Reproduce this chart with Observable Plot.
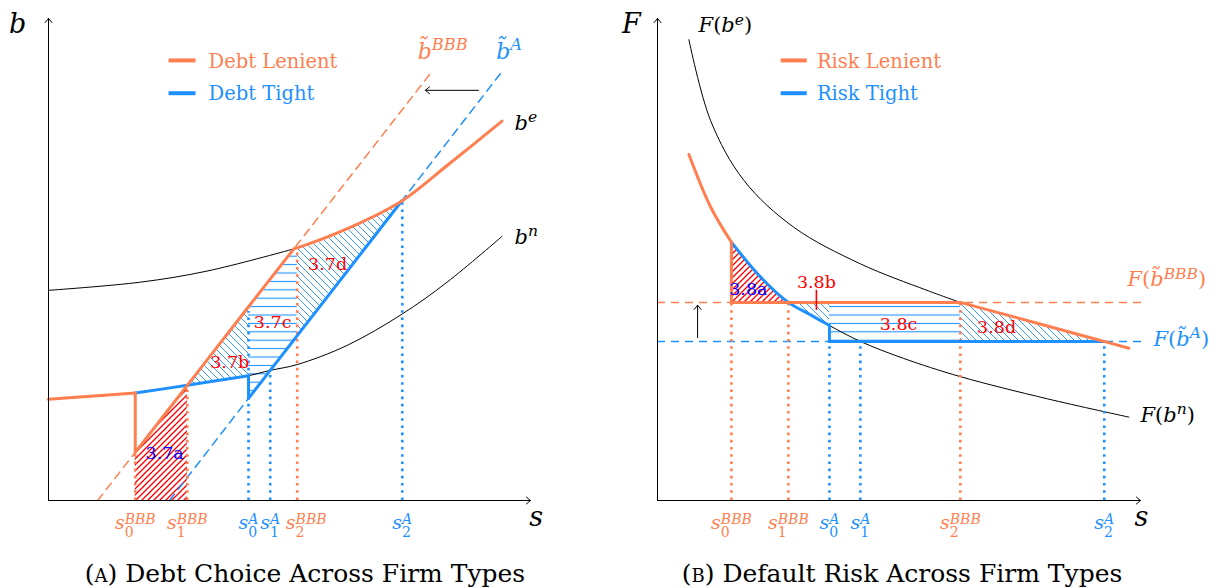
<!DOCTYPE html>
<html>
<head>
<meta charset="utf-8">
<script src="https://cdn.jsdelivr.net/npm/d3@7"></script>
<script src="https://cdn.jsdelivr.net/npm/@observablehq/plot@0.6"></script>
<style>
  body { margin: 0; background: #fff; }
  #wrap { position: relative; width: 1217px; height: 588px; overflow: hidden; background: #fff; font-family: "DejaVu Serif", serif; }
  .panel { position: absolute; top: 0; }
  .cap { position: absolute; top: 560px; text-align: center; font-size: 25px; line-height: 28px; color: #000; white-space: nowrap; }
  .sc { font-variant: small-caps; }
</style>
</head>
<body>
<div id="wrap">
  <div id="panelA" class="panel" style="left:0"></div>
  <div id="panelB" class="panel" style="left:608px"></div>
  <div class="cap" style="left:0;width:610px">(<span class="sc">a</span>) Debt Choice Across Firm Types</div>
  <div class="cap" style="left:608px;width:588px">(<span class="sc">b</span>) Default Risk Across Firm Types</div>
</div>
<script>
const ORANGE = "#FF7F50", BLUE = "#1E90FF", RED = "#FF0000", INK = "#0000FF";
const firmColor = {BBB: ORANGE, A: BLUE};

// ---------- Panel A: debt choice b(s) ----------
// cutoffs s_k^{firm} and the height where each dotted guide stops
const debtCutoffs = [
  {firm: "BBB", k: 0, s: 1.80, top: 1.00},
  {firm: "BBB", k: 1, s: 2.88, top: 2.39},
  {firm: "A",   k: 0, s: 4.15, top: 3.92},
  {firm: "A",   k: 1, s: 4.60, top: 2.70},
  {firm: "BBB", k: 2, s: 5.16, top: 5.15},
  {firm: "A",   k: 2, s: 7.34, top: 6.22}
];
const debtKink = 5.09; // where the BBB threshold meets b^e

// unconstrained optimum b^e and no-rating debt b^n
const bE = [
  {s: 0, b: 4.36}, {s: 1.91, b: 4.53}, {s: 3.29, b: 4.76}, {s: 5.09, b: 5.22},
  {s: 5.16, b: 5.24}, {s: 6.20, b: 5.64}, {s: 7.34, b: 6.22}, {s: 8.27, b: 6.95}, {s: 9.41, b: 7.87}
];
const bN = [
  {s: 0, b: 2.10}, {s: 1.80, b: 2.23}, {s: 2.88, b: 2.39}, {s: 4.15, b: 2.59}, {s: 4.60, b: 2.70},
  {s: 5.16, b: 2.82}, {s: 6.20, b: 3.22}, {s: 7.34, b: 3.87}, {s: 8.27, b: 4.53}, {s: 9.41, b: 5.48}
];
// rating thresholds (straight lines)
const bTildeBBB = [
  {s: 1.02, b: 0}, {s: 1.80, b: 1.00}, {s: 2.88, b: 2.39}, {s: 4.15, b: 4.02}, {s: 5.09, b: 5.22}, {s: 7.97, b: 8.92}
];
const bTildeA = [
  {s: 2.51, b: 0}, {s: 4.15, b: 2.12}, {s: 4.60, b: 2.70}, {s: 5.09, b: 3.33}, {s: 5.16, b: 3.42},
  {s: 6.20, b: 4.76}, {s: 7.34, b: 6.23}, {s: 9.44, b: 8.94}
];
const debtLegend = [{label: "Debt Lenient", firm: "BBB"}, {label: "Debt Tight", firm: "A"}];

// ---------- Panel B: default risk F(s) ----------
const riskCutoffs = [
  {firm: "BBB", k: 0, s: 1.53, top: 4.11},
  {firm: "BBB", k: 1, s: 2.71, top: 4.11},
  {firm: "A",   k: 0, s: 3.56, top: 3.30},
  {firm: "A",   k: 1, s: 4.20, top: 3.30},
  {firm: "BBB", k: 2, s: 6.27, top: 4.11},
  {firm: "A",   k: 2, s: 9.25, top: 3.30}
];
const riskLevels = [{firm: "BBB", F: 4.11}, {firm: "A", F: 3.30}];
const FbE = [
  {s: 0.65, F: 9.56}, {s: 1.10, F: 7.88}, {s: 1.79, F: 6.64}, {s: 2.82, F: 5.67}, {s: 4.20, F: 4.91},
  {s: 5.58, F: 4.36}, {s: 6.27, F: 4.11}, {s: 9.25, F: 3.30}, {s: 9.76, F: 3.16}
];
const FbN = [
  {s: 0.65, F: 7.18}, {s: 1.10, F: 6.09}, {s: 1.53, F: 5.36}, {s: 2.13, F: 4.64}, {s: 2.71, F: 4.11},
  {s: 3.17, F: 3.85}, {s: 3.56, F: 3.63}, {s: 4.20, F: 3.30}, {s: 5.09, F: 2.95}, {s: 6.27, F: 2.57},
  {s: 8.07, F: 2.11}, {s: 9.76, F: 1.73}
];
const riskLegend = [{label: "Risk Lenient", firm: "BBB"}, {label: "Risk Tight", firm: "A"}];

// ---------- helpers ----------
const cut = (arr, firm, k) => arr.find(d => d.firm === firm && d.k === k).s;
const segment = (curve, from, to) => curve.filter(d => d.s >= from && d.s <= to);
const valueAt = (curve, s, key) => curve.find(d => d.s === s)[key];
const piece = (id, pts, key) => pts.map(d => ({piece: id, s: d.s, v: d[key]}));

// derived tables for panel A
const [a0B, a1B, a0A, a1A, a2B, a2A] = [
  cut(debtCutoffs, "BBB", 0), cut(debtCutoffs, "BBB", 1), cut(debtCutoffs, "A", 0),
  cut(debtCutoffs, "A", 1), cut(debtCutoffs, "BBB", 2), cut(debtCutoffs, "A", 2)
];
const debtLenient = [
  ...piece(1, segment(bN, 0, a0B), "b"),
  ...piece(2, [{s: a0B, b: valueAt(bN, a0B, "b")}, {s: a0B, b: valueAt(bTildeBBB, a0B, "b")}], "b"),
  ...piece(3, segment(bTildeBBB, a0B, debtKink), "b"),
  ...piece(4, segment(bE, debtKink, 10), "b")
];
const debtTight = [
  ...piece(1, segment(bN, a0B, a0A), "b"),
  ...piece(2, [{s: a0A, b: valueAt(bN, a0A, "b")}, {s: a0A, b: valueAt(bTildeA, a0A, "b")}], "b"),
  ...piece(3, segment(bTildeA, a0A, a2A), "b")
];
const r37a = segment(bTildeBBB, a0B, a1B).map(d => ({s: d.s, lo: 0, hi: d.b}));
const r37b = segment(bN, a1B, a0A).map(d => ({s: d.s, lo: d.b, hi: valueAt(bTildeBBB, d.s, "b")}));
const r37c = [a0A, debtKink, a2B].map(s => ({
  s, lo: valueAt(bTildeA, s, "b"), hi: s <= debtKink ? valueAt(bTildeBBB, s, "b") : valueAt(bE, s, "b")
}));
const r37d = segment(bE, a2B, a2A).map(d => ({s: d.s, lo: valueAt(bTildeA, d.s, "b"), hi: d.b}));

// derived tables for panel B
const [f0B, f1B, f0A, f1A, f2B, f2A] = [
  cut(riskCutoffs, "BBB", 0), cut(riskCutoffs, "BBB", 1), cut(riskCutoffs, "A", 0),
  cut(riskCutoffs, "A", 1), cut(riskCutoffs, "BBB", 2), cut(riskCutoffs, "A", 2)
];
const levelBBB = riskLevels[0].F, levelA = riskLevels[1].F;
const riskLenient = [
  ...piece(1, segment(FbN, 0, f0B), "F"),
  ...piece(2, [{s: f0B, F: valueAt(FbN, f0B, "F")}, {s: f0B, F: levelBBB}], "F"),
  ...piece(3, [{s: f0B, F: levelBBB}, {s: f2B, F: levelBBB}], "F"),
  ...piece(4, segment(FbE, f2B, 10), "F")
];
const riskTight = [
  ...piece(1, segment(FbN, f0B, f0A), "F"),
  ...piece(2, [{s: f0A, F: valueAt(FbN, f0A, "F")}, {s: f0A, F: levelA}], "F"),
  ...piece(3, [{s: f0A, F: levelA}, {s: f2A, F: levelA}], "F")
];
const r38a = segment(FbN, f0B, f1B).map(d => ({s: d.s, lo: levelBBB, hi: d.F}));
const r38b = segment(FbN, f1B, f0A).map(d => ({s: d.s, lo: d.F, hi: levelBBB}));
const r38c = [f0A, f2B].map(s => ({s, lo: levelA, hi: levelBBB}));
const r38d = segment(FbE, f2B, f2A).map(d => ({s: d.s, lo: levelA, hi: d.F}));

const axes = [{x1: 0, y1: 0, x2: 10, y2: 0}, {x1: 0, y1: 0, x2: 0, y2: 10}];

// shared mark builders
const axisMarks = () => Plot.arrow(axes, {x1: "x1", y1: "y1", x2: "x2", y2: "y2", stroke: "black", strokeWidth: 1, headLength: 8, headAngle: 80});
const cutoffMarks = (cuts, nudge = {}) => [
  Plot.ruleX(cuts, {x: "s", y1: 0, y2: "top", stroke: d => firmColor[d.firm], strokeWidth: 2.6, strokeDasharray: "2.6,4.6"}),
  ...cuts.map(c => Plot.text([c], {x: "s", y: 0, text: d => `$s_${d.k}^{${d.firm}}`, fill: d => firmColor[d.firm],
    fontSize: 19, dy: 28, dx: nudge[c.firm + c.k] || 0, lineAnchor: "bottom", textAnchor: "middle"}))
];
const pathMarks = (data, color) => Plot.line(data, {x: "s", y: "v", z: "piece", stroke: color, strokeWidth: 3,
  curve: "catmull-rom", strokeLinecap: "round", strokeLinejoin: "round"});
const legendMarks = (items, x1, x2, xt, y0) => [
  Plot.link(items, {x1, x2, y1: (d, i) => y0 - 0.68 * i, y2: (d, i) => y0 - 0.68 * i, stroke: d => firmColor[d.firm], strokeWidth: 4}),
  Plot.text(items, {x: xt, y: (d, i) => y0 - 0.68 * i, text: "label", fill: d => firmColor[d.firm], textAnchor: "start", fontSize: 19.5, dy: 1})
];
const label = (t, x, y, opts = {}) => Plot.text([t], {x, y, text: d => d, lineAnchor: "bottom", textAnchor: "start", fontSize: 21, fill: "black", ...opts});
const regionLabel = (t, x, y, color) => Plot.text([t], {x, y, text: d => d, fill: color, fontSize: 17.5, textAnchor: "middle"});

const common = {
  height: 545, marginTop: 18, marginBottom: 45,
  x: {domain: [0, 10], axis: null}, y: {domain: [0, 10], axis: null},
  color: {type: "identity"},
  style: {fontFamily: "DejaVu Serif", overflow: "visible", background: "transparent"}
};

const chartA = Plot.plot({
  ...common, width: 608, marginLeft: 48, marginRight: 78,
  marks: [
    Plot.areaY(r37a, {x: "s", y1: "lo", y2: "hi", fill: "url(#hatchA-slash)"}),
    Plot.areaY(r37b, {x: "s", y1: "lo", y2: "hi", fill: "url(#hatchA-back)"}),
    Plot.areaY(r37c, {x: "s", y1: "lo", y2: "hi", fill: "url(#hatchA-flat)"}),
    Plot.areaY(r37d, {x: "s", y1: "lo", y2: "hi", fill: "url(#hatchA-back)", curve: "catmull-rom"}),
    Plot.line(bE, {x: "s", y: "b", stroke: "black", strokeWidth: 1, curve: "catmull-rom"}),
    Plot.line(bN, {x: "s", y: "b", stroke: "black", strokeWidth: 1, curve: "catmull-rom"}),
    Plot.line(bTildeBBB, {x: "s", y: "b", stroke: ORANGE, strokeWidth: 1.5, strokeDasharray: "8,6"}),
    Plot.line(bTildeA, {x: "s", y: "b", stroke: BLUE, strokeWidth: 1.5, strokeDasharray: "8,6"}),
    ...cutoffMarks(debtCutoffs, {BBB2: 9}),
    pathMarks(debtTight, BLUE),
    pathMarks(debtLenient, ORANGE),
    axisMarks(),
    Plot.arrow([{}], {x1: 8.92, y1: 8.51, x2: 7.82, y2: 8.51, stroke: "black", strokeWidth: 1, headLength: 8, headAngle: 80}),
    ...legendMarks(debtLegend, 2.49, 3.05, 3.32, 9.13),
    regionLabel("3.7a", 2.41, 0.97, INK),
    regionLabel("3.7b", 3.76, 2.86, RED),
    regionLabel("3.7c", 4.65, 3.69, RED),
    regionLabel("3.7d", 5.79, 4.90, RED),
    label("$~b^{BBB}", 7.66, 9.17, {fill: ORANGE, fontSize: 22}),
    label("$~b^{A}", 9.29, 9.17, {fill: BLUE, fontSize: 22}),
    label("$b^e", 9.67, 7.68),
    label("$b^n", 9.67, 5.33),
    label("$b", -0.64, 9.69, {fontSize: 27, textAnchor: "middle"}),
    label("$s", 10.12, -0.52, {fontSize: 27, textAnchor: "middle"})
  ]
});

const chartB = Plot.plot({
  ...common, width: 609, marginLeft: 49, marginRight: 77,
  marks: [
    Plot.areaY(r38a, {x: "s", y1: "lo", y2: "hi", fill: "url(#hatchB-slash)", curve: "catmull-rom"}),
    Plot.areaY(r38b, {x: "s", y1: "lo", y2: "hi", fill: "url(#hatchB-back)", curve: "catmull-rom"}),
    Plot.areaY(r38c, {x: "s", y1: "lo", y2: "hi", fill: "url(#hatchB-flat)"}),
    Plot.areaY(r38d, {x: "s", y1: "lo", y2: "hi", fill: "url(#hatchB-back)"}),
    Plot.line(segment(FbE, 0, f2B), {x: "s", y: "F", stroke: "black", strokeWidth: 1, curve: "catmull-rom"}),
    Plot.line(FbN, {x: "s", y: "F", stroke: "black", strokeWidth: 1, curve: "catmull-rom"}),
    Plot.ruleY(riskLevels, {y: "F", x1: 0, x2: 10.06, stroke: d => firmColor[d.firm], strokeWidth: 1.5, strokeDasharray: "8,6"}),
    ...cutoffMarks(riskCutoffs),
    pathMarks(riskTight, BLUE),
    pathMarks(riskLenient, ORANGE),
    axisMarks(),
    Plot.arrow([{}], {x1: 0.83, y1: 3.38, x2: 0.83, y2: 4.05, stroke: "black", strokeWidth: 1, headLength: 8, headAngle: 80}),
    Plot.ruleX([3.29], {x: d => d, y1: 3.94, y2: 4.36, stroke: RED, strokeWidth: 1.6}),
    ...legendMarks(riskLegend, 2.55, 3.09, 3.30, 9.13),
    regionLabel("3.8a", 1.88, 4.38, INK),
    regionLabel("3.8b", 3.29, 4.52, RED),
    regionLabel("3.8c", 4.99, 3.65, RED),
    regionLabel("3.8d", 7.02, 3.59, RED),
    label("$F(b^e)", 0.85, 9.71),
    label("$F(~b^{BBB})", 9.73, 4.44, {fill: ORANGE}),
    label("$F(~b^{A})", 10.27, 3.20, {fill: BLUE}),
    label("$F(b^n)", 10.0, 1.62),
    label("$F", -0.54, 9.69, {fontSize: 27, textAnchor: "middle"}),
    label("$s", 10.02, -0.52, {fontSize: 27, textAnchor: "middle"})
  ]
});

// hatch patterns: "/" in red, "\" and horizontal rules in blue
function addPatterns(svg, id) {
  const defs = d3.select(svg).insert("defs", ":first-child");
  const pat = (name, w, h, path, hue, sw) => defs.append("pattern").attr("id", `${id}-${name}`)
    .attr("patternUnits", "userSpaceOnUse").attr("width", w).attr("height", h)
    .append("path").attr("d", path).attr("fill", "none")
    .attr("stroke", hue).attr("stroke-width", sw);
  pat("slash", 6, 6, "M-1,1L1,-1M0,6L6,0M5,7L7,5", RED, 1.35);
  pat("back", 7, 7, "M-1,6L1,8M0,0L7,7M6,-1L8,1", BLUE, 0.9);
  pat("flat", 10, 8.4, "M0,4.2H10", BLUE, 1.1);
}

// small TeX-like typesetting of "$..." labels into tspans
function parseTex(src) {
  const toks = [];
  let i = 0;
  while (i < src.length) {
    const c = src[i];
    if (c === "_" || c === "^") {
      let text;
      if (src[i + 1] === "{") { const j = src.indexOf("}", i); text = src.slice(i + 2, j); i = j + 1; }
      else { text = src[i + 1]; i += 2; }
      toks.push({kind: c === "_" ? "sub" : "sup", text});
    } else {
      let text = "";
      while (i < src.length && src[i] !== "_" && src[i] !== "^") {
        if (src[i] === "~") { text += src[i + 1] + "\u0303"; i += 2; }
        else { text += src[i]; i++; }
      }
      toks.push({kind: "base", text});
    }
  }
  return toks;
}
function runs(text) {
  const out = [];
  for (const ch of text) {
    const italic = /[A-Za-z]/.test(ch) ? true : ch === "\u0303" ? (out.length ? out[out.length - 1].italic : true) : false;
    if (out.length && out[out.length - 1].italic === italic) out[out.length - 1].text += ch;
    else out.push({text: ch, italic});
  }
  return out;
}
function typeset(svg) {
  const ns = "http://www.w3.org/2000/svg";
  svg.querySelectorAll("text").forEach(el => {
    const src = el.textContent;
    if (!src.startsWith("$")) return;
    const fs = parseFloat(getComputedStyle(el).fontSize);
    const toks = parseTex(src.slice(1));
    el.textContent = "";
    let cur = 0;
    const addRuns = (text, size, shift, dx) => {
      const made = [];
      runs(text).forEach((r, n) => {
        const t = document.createElementNS(ns, "tspan");
        t.textContent = r.text;
        t.setAttribute("font-size", size);
        t.setAttribute("font-style", r.italic ? "italic" : "normal");
        if (shift - cur) t.setAttribute("dy", shift - cur);
        if (n === 0 && dx) t.setAttribute("dx", dx);
        cur = shift;
        el.appendChild(t);
        made.push(t);
      });
      return made;
    };
    for (let i = 0; i < toks.length; i++) {
      const tk = toks[i];
      const ss = 0.74 * fs;
      if (tk.kind === "base") addRuns(tk.text, fs, 0);
      else if (tk.kind === "sub") {
        const next = toks[i + 1];
        if (next && next.kind === "sup") {
          const subs = addRuns(tk.text, ss, 0.45 * fs);
          const w = subs.reduce((a, t) => a + t.getComputedTextLength(), 0);
          addRuns(next.text, ss, -0.26 * fs, -w);
          i++;
        } else addRuns(tk.text, ss, 0.25 * fs);
      } else addRuns(tk.text, ss, -0.38 * fs);
    }
  });
}

document.getElementById("panelA").append(chartA);
document.getElementById("panelB").append(chartB);
addPatterns(chartA, "hatchA");
addPatterns(chartB, "hatchB");
typeset(chartA);
typeset(chartB);
</script>
</body>
</html>
